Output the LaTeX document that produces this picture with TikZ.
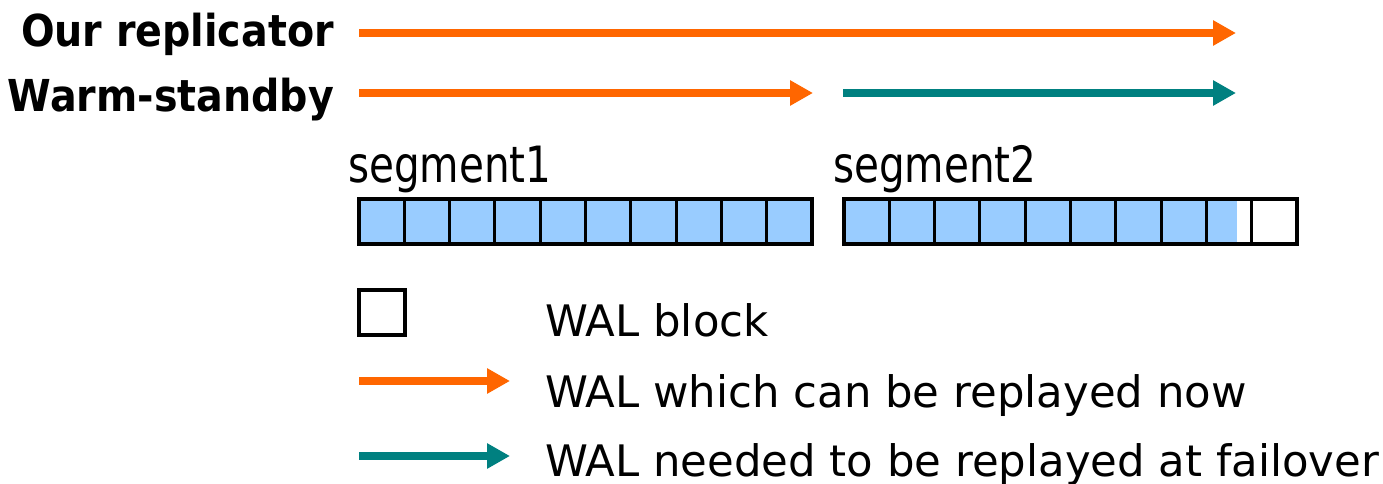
\documentclass[tikz,border=0pt]{standalone}
\usepackage{fontspec}
\setmainfont{DejaVu Sans Condensed}
\newfontfamily\legfont{DejaVu Sans}
\usetikzlibrary{arrows.meta}
\definecolor{orng}{HTML}{FF6600}
\definecolor{teal}{HTML}{008080}
\definecolor{cellblue}{HTML}{99CCFF}
\begin{document}
\begin{tikzpicture}[x=1pt,y=-1pt,
  lbl/.style={inner sep=0pt,font=\bfseries\fontsize{44}{44}\selectfont,anchor=base east},
  seglbl/.style={inner sep=0pt,font=\fontsize{50}{50}\selectfont,anchor=base west},
  leg/.style={inner sep=0pt,font=\legfont\fontsize{43.4}{43.4}\selectfont,anchor=base west},
  flow/.style={line width=8pt,-{Triangle[length=23pt,width=24pt]}},
  cell/.style={draw=black,line width=3pt},
  frame/.style={draw=black,line width=4pt}]
\useasboundingbox (0,0) rectangle (1383,484);
% labels
\node[lbl] (our) at (334,47) {Our replicator};
\node[lbl] (warm) at (334,112) {Warm-standby};
% arrow endpoints
\coordinate (a1s) at (359,33);
\coordinate (a1e) at (1236,33);
\coordinate (a2s) at (359,93);
\coordinate (a2e) at (813,93);
\coordinate (a3s) at (843,93);
\coordinate (a3e) at (1236,93);
\draw[flow,orng] (a1s) -- (a1e);
\draw[flow,orng] (a2s) -- (a2e);
\draw[flow,teal] (a3s) -- (a3e);
% segment labels
\node[seglbl] (s1) at (348,182) {\scalebox{0.9}[1]{segment1}};
\node[seglbl] (s2) at (833,182) {\scalebox{0.9}[1]{segment2}};
% segment 1
\fill[cellblue] (359,199) rectangle (812,244);
\foreach \i in {1,...,9} {\draw[cell] ({359+\i*45.3},199) -- ({359+\i*45.3},244);}
\draw[frame] (359,199) rectangle (812,244);
% segment 2
\fill[cellblue] (844,199) rectangle (1237,244);
\foreach \i in {1,...,9} {\draw[cell] ({844+\i*45.3},199) -- ({844+\i*45.3},244);}
\draw[frame] (844,199) rectangle (1297,244);
% legend
\node[draw=black,line width=4pt,minimum width=46pt,minimum height=45pt,inner sep=0pt] (sq) at (382,312.5) {};
\node[leg] (l1) at (545,336) {WAL block};
\coordinate (l2s) at (359,381);
\coordinate (l2e) at (510,381);
\coordinate (l3s) at (359,456);
\coordinate (l3e) at (510,456);
\draw[flow,orng] (l2s) -- (l2e);
\draw[flow,teal] (l3s) -- (l3e);
\node[leg] (l2) at (545,407) {WAL which can be replayed now};
\node[leg] (l3) at (545,476) {WAL needed to be replayed at failover};
\end{tikzpicture}
\end{document}
